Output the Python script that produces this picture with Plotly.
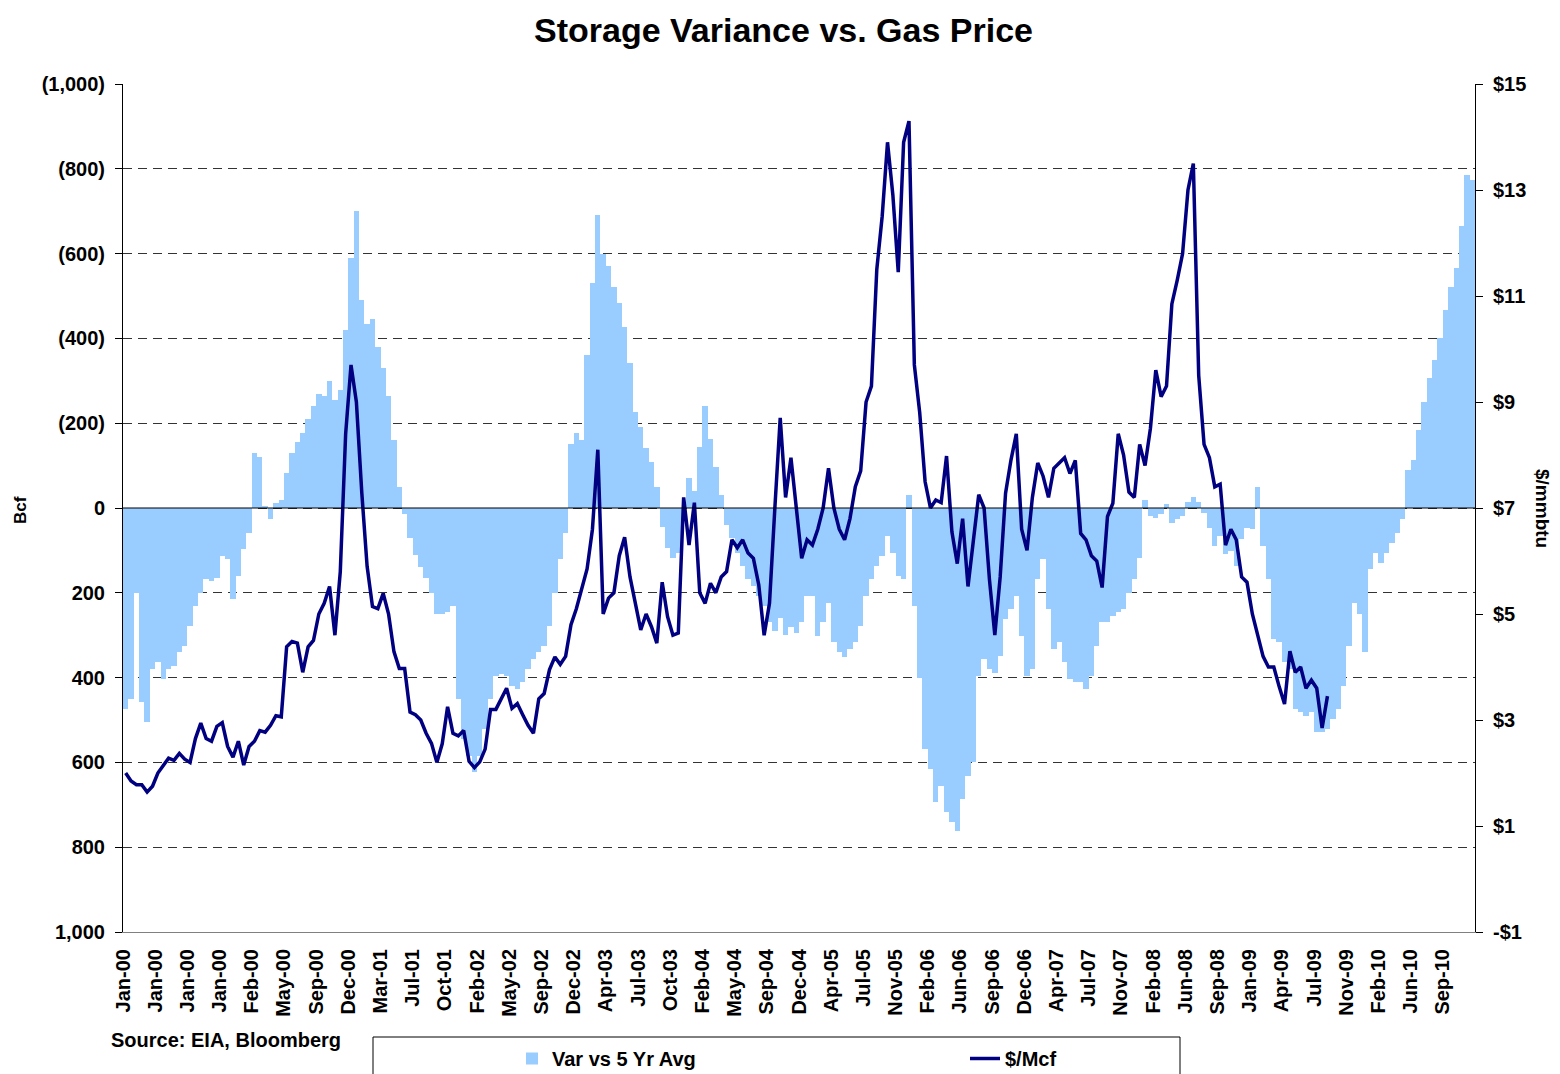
import plotly.graph_objects as go

# ---------------- data ----------------
tick_labels = ["Jan-00", "Jan-00", "Jan-00", "Jan-00", "Feb-00", "May-00", "Sep-00", "Dec-00",
               "Mar-01", "Jul-01", "Oct-01", "Feb-02", "May-02", "Sep-02", "Dec-02", "Apr-03",
               "Jul-03", "Oct-03", "Feb-04", "May-04", "Sep-04", "Dec-04", "Apr-05", "Jul-05",
               "Nov-05", "Feb-06", "Jun-06", "Sep-06", "Dec-06", "Apr-07", "Jul-07", "Nov-07",
               "Feb-08", "Jun-08", "Sep-08", "Jan-09", "Apr-09", "Jul-09", "Nov-09", "Feb-10",
               "Jun-10", "Sep-10"]

# storage variance vs 5-yr average (Bcf), one value per ~2.5 weeks
storage_var = [
    474, 450, 200, 458, 505, 380,
    364, 403, 380, 372, 340, 325,
    278, 230, 200, 168, 172, 164,
    113, 121, 215, 160, 97, 60,
    -130, -120, -5, 25, -12, -20,
    -82, -130, -155, -176, -210, -240,
    -268, -265, -300, -255, -278, -420,
    -590, -700, -490, -435, -445, -380,
    -330, -263, -160, -50, 15, 70,
    110, 140, 165, 200, 250, 250,
    245, 230, 450, 545, 584, 623,
    584, 521, 450, 396, 392, 396,
    419, 427, 411, 380, 356, 340,
    325, 278, 200, 120, 60, -150,
    -176, -160, -360, -530, -690, -600,
    -570, -522, -483, -428, -341, -227,
    -192, -141, -109, -50, 45, 95,
    117, 105, 30, -70, -40, -145,
    -240, -162, -97, -30, 40, 70,
    105, 137, 168, 184, 207, 230,
    270, 290, 260, 300, 280, 294,
    270, 207, 207, 301, 270, 223,
    317, 340, 352, 333, 317, 278,
    207, 168, 137, 113, 66, 105,
    160, 168, -30, 230, 400, 568,
    615, 694, 655, 717, 741, 761,
    686, 631, 600, 396, 356, 380,
    388, 349, 262, 239, 207, 301,
    396, 380, 168, 121, 239, 333,
    317, 364, 403, 411, 411, 427,
    396, 325, 270, 270, 254, 246,
    239, 200, 168, 117, -20, 19,
    23, 15, -10, 35, 27, 19,
    -15, -25, -15, 11, 46, 89,
    66, 109, 101, 137, 74, 46,
    50, -50, 89, 168, 309, 317,
    364, 380, 474, 482, 490, 482,
    529, 529, 521, 498, 474, 419,
    325, 223, 250, 340, 144, 105,
    129, 105, 82, 58, 27, -90,
    -113, -184, -251, -306, -349, -400,
    -467, -522, -565, -665, -785, -774,
]

# gas price ($/Mcf), same sampling, series ends mid-2009
gas_price = [
    2.0, 1.85, 1.78, 1.78, 1.64, 1.75,
    2.0, 2.15, 2.28, 2.24, 2.37, 2.26,
    2.2, 2.65, 2.94, 2.65, 2.60, 2.88,
    2.95, 2.5, 2.3, 2.6, 2.15, 2.5,
    2.6, 2.8, 2.77, 2.9, 3.08, 3.06,
    4.38, 4.48, 4.45, 3.9, 4.38, 4.5,
    5.0, 5.2, 5.52, 4.6, 5.8, 8.4,
    9.7, 9.0, 7.3, 5.9, 5.14, 5.1,
    5.39, 5.0, 4.29, 3.97, 3.97, 3.15,
    3.1, 3.0, 2.75, 2.56, 2.2, 2.55,
    3.25, 2.75, 2.7, 2.8, 2.22, 2.1,
    2.21, 2.45, 3.2, 3.2, 3.4, 3.6,
    3.22, 3.31, 3.1, 2.9, 2.75, 3.4,
    3.5, 3.95, 4.19, 4.05, 4.2, 4.8,
    5.1, 5.5, 5.85, 6.6, 8.1, 5.0,
    5.3, 5.4, 6.1, 6.45, 5.7, 5.2,
    4.7, 5.0, 4.76, 4.45, 5.6, 4.95,
    4.6, 4.64, 7.2, 6.3, 7.1, 5.4,
    5.2, 5.58, 5.4, 5.7, 5.8, 6.4,
    6.25, 6.4, 6.15, 6.05, 5.55, 4.6,
    5.2, 7.0, 8.7, 7.2, 7.95, 7.0,
    6.05, 6.4, 6.3, 6.6, 7.0, 7.75,
    7.0, 6.6, 6.4, 6.8, 7.4, 7.7,
    9.0, 9.3, 11.5, 12.5, 13.9, 12.9,
    11.45, 13.9, 14.3, 9.7, 8.8, 7.5,
    7.0, 7.15, 7.1, 7.98, 6.55, 5.95,
    6.8, 5.52, 6.33, 7.25, 7.0, 5.65,
    4.6, 5.7, 7.28, 7.9, 8.4, 6.6,
    6.2, 7.2, 7.85, 7.6, 7.2, 7.75,
    7.85, 7.95, 7.65, 7.9, 6.52, 6.4,
    6.1, 6.0, 5.5, 6.84, 7.09, 8.4,
    8.0, 7.3, 7.2, 8.2, 7.8, 8.5,
    9.6, 9.1, 9.3, 10.85, 11.3, 11.8,
    13.0, 13.5, 9.5, 8.2, 7.95, 7.4,
    7.45, 6.3, 6.6, 6.4, 5.7, 5.6,
    5.0, 4.6, 4.2, 4.0, 4.0, 3.63,
    3.3, 4.3, 3.9, 4.0, 3.6, 3.75,
    3.6, 2.85, 3.45,
]
gas_price = gas_price + [None] * (len(storage_var) - len(gas_price))

left_vals = [-1000, -800, -600, -400, -200, 0, 200, 400, 600, 800, 1000]
left_text = ["(1,000)", "(800)", "(600)", "(400)", "(200)", "0", "200", "400", "600", "800", "1,000"]
right_vals = [-1, 1, 3, 5, 7, 9, 11, 13, 15]
right_text = ["-$1", "$1", "$3", "$5", "$7", "$9", "$11", "$13", "$15"]

points_per_label = 6
x_idx = list(range(len(storage_var)))
tick_pos = [i * points_per_label - 0.5 for i in range(len(tick_labels))]

FONT = "Liberation Sans, Arial, sans-serif"

# page body has an 8px margin: figure occupies page pixels 8..1560 / 8..1074
W, H = 1552, 1066
OFF = 8
PL, PR, PT, PB = 123 - OFF, 1475 - OFF, 84 - OFF, 932 - OFF  # plot area in figure px
PW, PH = PR - PL, PB - PT


def px(xpage):
    return (xpage - OFF - PL) / PW


def py(ypage):
    return (PB - (ypage - OFF)) / PH


fig = go.Figure()
fig.add_trace(go.Bar(
    x=x_idx, y=storage_var, name="Var vs 5 Yr Avg",
    marker=dict(color="#99CCFF", line=dict(width=0)),
    yaxis="y",
))
fig.add_trace(go.Scatter(
    x=x_idx, y=gas_price, name="$/Mcf", mode="lines",
    line=dict(color="#000080", width=3.5),
    yaxis="y2", connectgaps=False,
))

tick_font = dict(family=FONT, size=20, color="black", weight="bold")

fig.update_layout(
    width=W, height=H,
    margin=dict(l=PL, r=W - PR, t=PT, b=H - PB, autoexpand=False),
    paper_bgcolor="white", plot_bgcolor="white",
    bargap=0,
    title=dict(text="Storage Variance vs. Gas Price",
               x=(783.5 - OFF) / W, xref="container",
               y=1 - (30 - OFF) / H, yref="container", xanchor="center", yanchor="middle",
               font=dict(family=FONT, size=34, color="black", weight="bold")),
    xaxis=dict(
        range=[-0.5, len(storage_var) - 0.5],
        tickmode="array", tickvals=tick_pos, ticktext=tick_labels,
        tickangle=-90, tickfont=dict(family=FONT, size=20, color="black", weight="bold"),
        ticks="", showgrid=False, zeroline=False,
        showline=True, linecolor="#808080", linewidth=1,
        ticklabelstandoff=8,
    ),
    yaxis=dict(
        range=[1000, -1000],
        tickmode="array", tickvals=left_vals, ticktext=left_text,
        tickfont=tick_font, ticks="outside", ticklen=7, tickcolor="black",
        showline=True, linecolor="black", linewidth=1,
        showgrid=True, gridcolor="#333333", gridwidth=1, griddash="9px,6px",
        zeroline=False, ticklabelstandoff=6,
    ),
    yaxis2=dict(
        range=[-1, 15], overlaying="y", side="right",
        tickmode="array", tickvals=right_vals, ticktext=right_text,
        tickfont=tick_font, ticks="outside", ticklen=7, tickcolor="black",
        showline=True, linecolor="black", linewidth=1,
        showgrid=False, zeroline=False, ticklabelstandoff=6,
    ),
    showlegend=True,
    legend=dict(
        orientation="h", x=px(512), y=py(1039),
        xanchor="left", yanchor="top",
        font=dict(family=FONT, size=20, color="black", weight="bold"),
        bgcolor="rgba(0,0,0,0)", borderwidth=0,
        entrywidth=408, entrywidthmode="pixels", traceorder="normal",
    ),
    shapes=[
        dict(type="line", xref="paper", yref="y", x0=0, x1=1, y0=0, y1=0,
             line=dict(color="black", width=1), layer="above"),
        dict(type="rect", xref="paper", yref="paper",
             x0=px(373), x1=px(1180), y0=py(1037), y1=py(1100),
             line=dict(color="black", width=1), fillcolor="rgba(0,0,0,0)", layer="above"),
    ],
    annotations=[
        dict(text="Bcf", xref="paper", yref="paper", x=px(20), y=py(510),
             xanchor="center", yanchor="middle", textangle=-90, showarrow=False,
             font=dict(family=FONT, size=17, color="black", weight="bold")),
        dict(text="$/mmbtu", xref="paper", yref="paper", x=px(1543), y=py(508),
             xanchor="center", yanchor="middle", textangle=90, showarrow=False,
             font=dict(family=FONT, size=19, color="black", weight="bold")),
        dict(text="Source: EIA, Bloomberg", xref="paper", yref="paper",
             x=px(109), y=py(1040), xanchor="left", yanchor="middle",
             showarrow=False, font=dict(family=FONT, size=20, color="black", weight="bold")),
    ],
)

fig.write_html("out.html")
